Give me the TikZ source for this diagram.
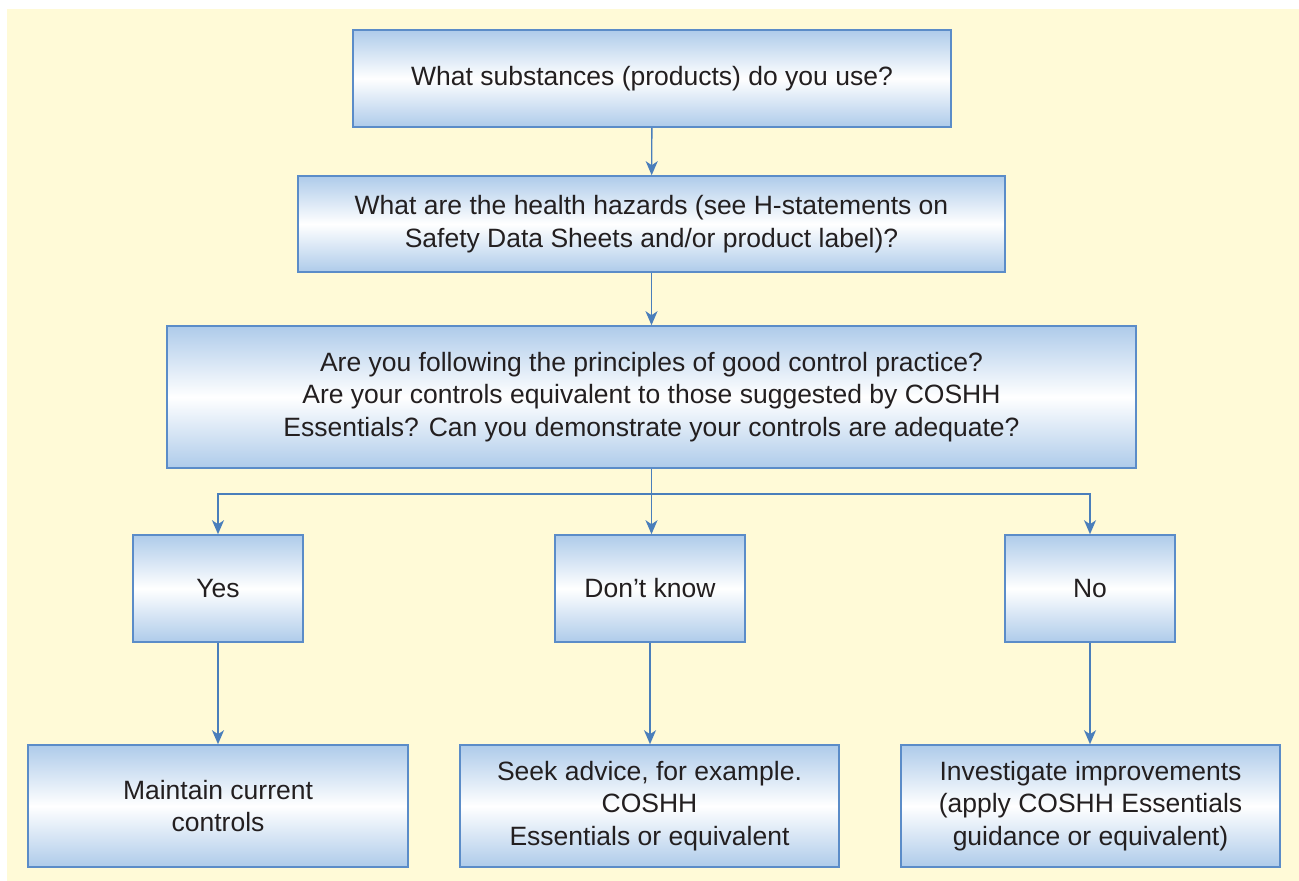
\documentclass[tikz,border=0pt]{standalone}
\usepackage{fontspec}
\setmainfont{Liberation Sans}
\usetikzlibrary{arrows.meta}
\definecolor{bgyellow}{HTML}{FFFAD7}
\definecolor{boxblue}{HTML}{AECBEA}
\definecolor{edgeblue}{HTML}{5B8CC8}
\definecolor{lineblue}{HTML}{4A7EBB}
\definecolor{txt}{HTML}{231F20}
\tikzset{
  flowbox/.style={draw=edgeblue, line width=1.6pt, top color=boxblue, bottom color=boxblue, middle color=white,
    align=center, text=txt, font=\fontsize{26.5}{32.5}\selectfont, inner sep=0pt},
  conn/.style={draw=lineblue, line width=1.4pt, -{Stealth[length=14pt,width=12pt,inset=4pt]}},
}
\begin{document}
\begin{tikzpicture}[x=1pt,y=-1pt]
\useasboundingbox (0,0) rectangle (1299,881);
\fill[bgyellow] (7,9) rectangle (1299,881);
\node[flowbox, minimum width=598, minimum height=97] (q1) at (652,78.5) {What substances (products) do you use?};
\node[flowbox, minimum width=707, minimum height=96] (q2) at (651.5,224) {What are the health hazards (see H-statements on\\Safety Data Sheets and/or product label)?};
\node[flowbox, minimum width=969, minimum height=142] (q3) at (651.5,397) {Are you following the principles of good control practice?\\Are your controls equivalent to those suggested by COSHH\\Essentials? Can you demonstrate your controls are adequate?};
\node[flowbox, minimum width=170, minimum height=107] (yes) at (218,588.5) {Yes};
\node[flowbox, minimum width=190, minimum height=107] (dk) at (650,588.5) {Don’t know};
\node[flowbox, minimum width=170, minimum height=107] (no) at (1090,588.5) {No};
\node[flowbox, minimum width=380, minimum height=122] (r1) at (218,806) {Maintain current\\controls};
\node[flowbox, minimum width=379, minimum height=122] (r2) at (649.5,806) {Seek advice, for example.\\COSHH\\Essentials or equivalent};
\node[flowbox, minimum width=379, minimum height=122] (r3) at (1090.5,806) {Investigate improvements\\(apply COSHH Essentials\\guidance or equivalent)};
\coordinate (split) at (651.5,494);
\draw[conn] (q1) -- (q2);
\draw[conn] (q2) -- (q3);
\draw[conn] (q3.south) -- (split) -| (yes.north);
\draw[conn] (q3.south) -- (dk.north -| q3.south);
\draw[conn] (split) -| (no.north);
\draw[conn] (yes) -- (r1);
\draw[conn] (dk.south) -- (dk.south |- r2.north);
\draw[conn] (no) -- (no.south |- r3.north);
\end{tikzpicture}
\end{document}
